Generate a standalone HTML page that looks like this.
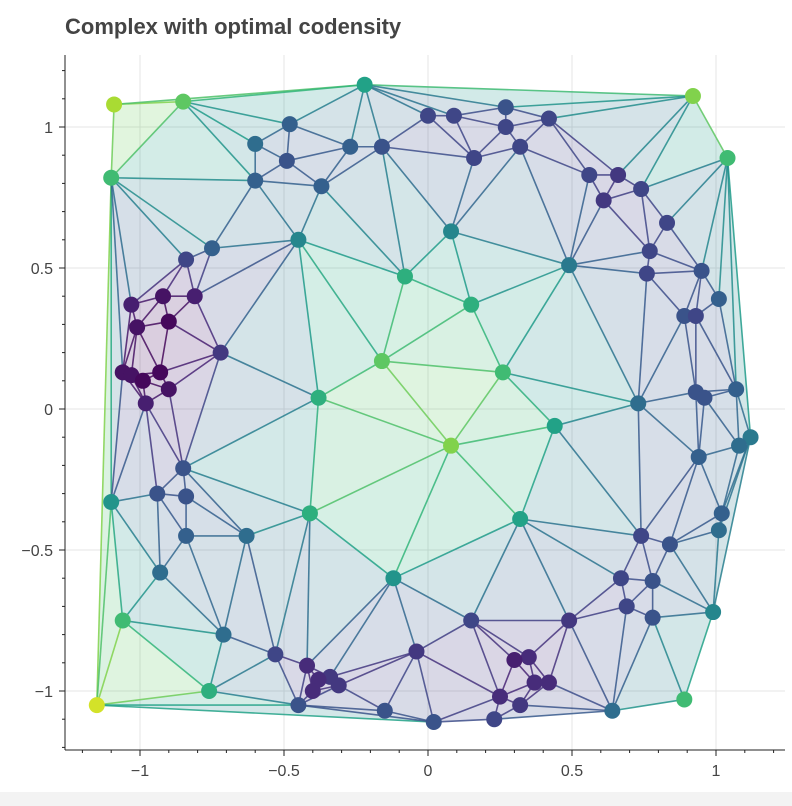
<!DOCTYPE html>
<html><head><meta charset="utf-8"><style>
body{margin:0;background:#fff;width:792px;height:806px;overflow:hidden;font-family:"Liberation Sans",sans-serif}
#title{position:absolute;left:65px;top:14px;font-size:22px;font-weight:bold;color:#444}
#strip{position:absolute;left:0;top:792px;width:792px;height:14px;background:#f3f3f3}
</style></head><body>
<div id="title">Complex with optimal codensity</div>
<svg id="chart" width="792" height="806" style="position:absolute;left:0;top:0"></svg>
<div id="strip"></div>
<script>
const xs=[-1.09,-0.85,-0.22,0.92,1.04,-1.10,-1.15,-1.06,-0.76,-1.10,0.89,0.99,1.12,
-0.60,-0.48,-0.49,-0.27,-0.16,-0.37,-0.60,0.00,0.09,0.27,0.27,0.16,0.32,0.42,0.56,0.66,0.74,0.61,0.83,0.77,0.76,0.95,1.01,0.89,0.93,1.07,0.93,0.96,1.08,0.94,1.02,1.01,0.84,0.74,0.78,0.67,0.69,0.78,0.64,0.49,0.35,0.30,0.42,0.37,0.25,0.32,0.23,0.02,-0.04,-0.15,0.15,-0.31,-0.34,-0.38,-0.40,-0.42,-0.53,-0.45,-0.71,-0.93,-0.84,-0.94,-0.84,-0.85,-0.63,-0.75,-0.84,-0.92,-0.81,-1.03,-1.01,-0.90,-0.72,-1.06,-1.03,-0.99,-0.93,-0.90,-0.98,
-0.45,0.08,-0.08,0.15,0.49,-0.16,-0.38,0.26,0.08,0.44,0.73,-0.41,0.32,-0.12];
const ys=[1.08,1.09,1.15,1.11,0.89,0.82,-1.05,-0.75,-1.00,-0.33,-1.03,-0.72,-0.10,
0.94,1.01,0.88,0.93,0.93,0.79,0.81,1.04,1.04,1.07,1.00,0.89,0.93,1.03,0.83,0.83,0.78,0.74,0.66,0.56,0.48,0.49,0.39,0.33,0.33,0.07,0.06,0.04,-0.13,-0.17,-0.37,-0.43,-0.48,-0.45,-0.61,-0.60,-0.70,-0.74,-1.07,-0.75,-0.88,-0.89,-0.97,-0.97,-1.02,-1.05,-1.10,-1.11,-0.86,-1.07,-0.75,-0.98,-0.95,-0.96,-1.00,-0.91,-0.87,-1.05,-0.80,-0.58,-0.45,-0.30,-0.31,-0.21,-0.45,0.57,0.53,0.40,0.40,0.37,0.29,0.31,0.20,0.13,0.12,0.10,0.13,0.07,0.02,
0.60,0.63,0.47,0.37,0.51,0.17,0.04,0.13,-0.13,-0.06,0.02,-0.37,-0.39,-0.60];
const vals=[.9,.8,.65,.85,.75,.75,.95,.75,.7,.6,.75,.55,.5,
.45,.4,.35,.4,.35,.4,.4,.3,.3,.35,.3,.3,.3,.3,.3,.25,.3,.25,.3,.3,.3,.35,.4,.35,.3,.4,.35,.35,.45,.4,.4,.45,.35,.3,.35,.3,.3,.35,.45,.25,.2,.15,.2,.2,.2,.25,.3,.35,.25,.35,.3,.25,.25,.2,.2,.2,.3,.35,.45,.45,.4,.35,.35,.35,.45,.4,.3,.1,.15,.15,.1,.05,.25,.1,.1,.05,.05,.1,.15,
.55,.55,.7,.7,.5,.8,.7,.75,.85,.65,.45,.7,.65,.6];
const xTicks=[-1,-0.5,0,0.5,1];
const yTicks=[-1,-0.5,0,0.5,1];
const xTickLabels=["\u22121","\u22120.5","0","0.5","1"];
const yTickLabels=["\u22121","\u22120.5","0","0.5","1"];

const L=65,R=785,T=55,B=750;
const sx=v=>428+v*288, sy=v=>409-v*282;
const NS="http://www.w3.org/2000/svg";
const svg=document.getElementById('chart');
function mk(tag,attrs,parent){const e=document.createElementNS(NS,tag);for(const k in attrs)e.setAttribute(k,attrs[k]);(parent||svg).appendChild(e);return e;}
const VS=[[68,1,84],[72,40,120],[62,74,137],[49,104,142],[38,130,142],[31,158,137],[53,183,121],[109,205,89],[180,222,44],[253,231,37]];
function vir(t){t=Math.pow(Math.max(0,Math.min(1,t)),1.3)*9;const i=Math.min(8,Math.floor(t)),f=t-i;const a=VS[i],b=VS[i+1];return `rgb(${a.map((c,k)=>Math.round(c+(b[k]-c)*f)).join(',')})`;}

const grid=mk('g',{});
xTicks.forEach(v=>mk('line',{x1:sx(v),x2:sx(v),y1:T,y2:B,stroke:'#e4e4e4','stroke-width':1},grid));
yTicks.forEach(v=>mk('line',{x1:L,x2:R,y1:sy(v),y2:sy(v),stroke:'#e4e4e4','stroke-width':1},grid));

const P=xs.map((x,i)=>[sx(x),sy(ys[i])]);
function circ(a,b,c){const ax=a[0],ay=a[1],bx=b[0],by=b[1],cx=c[0],cy=c[1];const d=2*(ax*(by-cy)+bx*(cy-ay)+cx*(ay-by));const ux=((ax*ax+ay*ay)*(by-cy)+(bx*bx+by*by)*(cy-ay)+(cx*cx+cy*cy)*(ay-by))/d;const uy=((ax*ax+ay*ay)*(cx-bx)+(bx*bx+by*by)*(ax-cx)+(cx*cx+cy*cy)*(bx-ax))/d;return [ux,uy,(ax-ux)**2+(ay-uy)**2];}
const pts=P.slice();const n=pts.length;
pts.push([-10000,-10000],[10000,-10000],[0,10000]);
let tris=[[n,n+1,n+2]];tris.forEach(t=>t.c=circ(pts[t[0]],pts[t[1]],pts[t[2]]));
for(let i=0;i<n;i++){const p=pts[i];const bad=[],keep=[];
 tris.forEach(t=>{((p[0]-t.c[0])**2+(p[1]-t.c[1])**2<t.c[2])?bad.push(t):keep.push(t);});
 const ec={};bad.forEach(t=>{[[t[0],t[1]],[t[1],t[2]],[t[2],t[0]]].forEach(e=>{const k=Math.min(...e)+'_'+Math.max(...e);ec[k]=(ec[k]||{e,c:0});ec[k].c++;});});
 tris=keep;for(const k in ec){if(ec[k].c===1){const t=[ec[k].e[0],ec[k].e[1],i];t.c=circ(pts[t[0]],pts[t[1]],pts[t[2]]);tris.push(t);}}}
tris=tris.filter(t=>t[0]<n&&t[1]<n&&t[2]<n);

const tg=mk('g',{});
tris.forEach(t=>{const m=(vals[t[0]]+vals[t[1]]+vals[t[2]])/3;
 const pg=mk('polygon',{points:t.map(i=>P[i].join(',')).join(' '),fill:vir(m),'fill-opacity':0.2,stroke:'none'},tg);
 
 });
const eg=mk('g',{});
const seen={};
tris.forEach(t=>[[t[0],t[1]],[t[1],t[2]],[t[2],t[0]]].forEach(([a,b])=>{const k=Math.min(a,b)+'_'+Math.max(a,b);if(seen[k])return;seen[k]=1;
 const ln=mk('line',{x1:P[a][0],y1:P[a][1],x2:P[b][0],y2:P[b][1],stroke:vir((vals[a]+vals[b])/2),'stroke-width':1.6,'stroke-opacity':0.85},eg);
 
 }));
const pgp=mk('g',{});
P.forEach((p,i)=>{const c=mk('circle',{cx:p[0],cy:p[1],r:8,fill:vir(vals[i])},pgp);
 
 });

const ax=mk('g',{});
mk('line',{x1:L,x2:R,y1:B,y2:B,stroke:'#222','stroke-width':1},ax);
mk('line',{x1:L,x2:L,y1:T,y2:B,stroke:'#222','stroke-width':1},ax);
for(let k=-12;k<=12;k++){const v=k/10,X=sx(v);if(X<L||X>R)continue;const maj=k%5===0;mk('line',{x1:X,x2:X,y1:B,y2:B+(maj?6:3),stroke:'#222'},ax);}
for(let k=-12;k<=12;k++){const v=k/10,Y=sy(v);if(Y<T||Y>B)continue;const maj=k%5===0;mk('line',{x1:L,x2:L-(maj?6:3),y1:Y,y2:Y,stroke:'#222'},ax);}
xTicks.forEach((v,i)=>{const t=mk('text',{x:sx(v),y:B+26,'text-anchor':'middle','font-size':16,fill:'#444','font-family':'Liberation Sans'},ax);t.textContent=xTickLabels[i];
 
 });
yTicks.forEach((v,i)=>{const t=mk('text',{x:L-12,y:sy(v)+6,'text-anchor':'end','font-size':16,fill:'#444','font-family':'Liberation Sans'},ax);t.textContent=yTickLabels[i];
 
 });
</script>
</body></html>
